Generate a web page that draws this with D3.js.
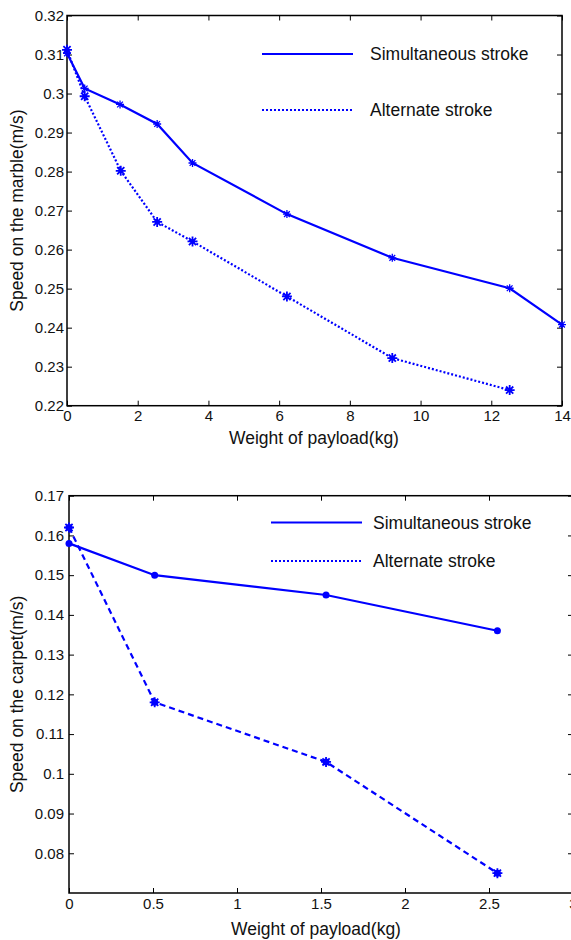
<!DOCTYPE html>
<html><head><meta charset="utf-8">
<script src="https://cdn.jsdelivr.net/npm/d3@7"></script>
<style>body{margin:0;background:#fff}svg{display:block}text{font-family:"Liberation Sans",Arial,sans-serif;fill:#111}</style>
</head><body>
<svg id="c" width="571" height="940"></svg>
<script>
// ---- Data: marble (top) ----
const marbleSimX = [0, 0.5, 1.5, 2.55, 3.55, 6.22, 9.2, 12.52, 14];
const marbleSimY = [0.3103, 0.3013, 0.2972, 0.2922, 0.2822, 0.2691, 0.2579, 0.2501, 0.2408];
const marbleAltX = [0, 0.5, 1.52, 2.55, 3.55, 6.22, 9.2, 12.52];
const marbleAltY = [0.3112, 0.2993, 0.2802, 0.2671, 0.2621, 0.2480, 0.2322, 0.2240];
const marbleXTicks = [0, 2, 4, 6, 8, 10, 12, 14];
const marbleYTicks = [0.22, 0.23, 0.24, 0.25, 0.26, 0.27, 0.28, 0.29, 0.30, 0.31, 0.32];
// ---- Data: carpet (bottom) ----
const carpetSimX = [0, 0.51, 1.53, 2.55];
const carpetSimY = [0.158, 0.150, 0.145, 0.136];
const carpetAltX = [0, 0.51, 1.53, 2.55];
const carpetAltY = [0.162, 0.118, 0.103, 0.075];
const carpetXTicks = [0, 0.5, 1, 1.5, 2, 2.5, 3];
const carpetYTicks = [0.08, 0.09, 0.10, 0.11, 0.12, 0.13, 0.14, 0.15, 0.16, 0.17];
const seriesNames = ["Simultaneous stroke", "Alternate stroke"];
const xLabel = "Weight of payload(kg)";
const yLabels = ["Speed on the marble(m/s)", "Speed on the carpet(m/s)"];

const BLUE = "#0000ff";
const svg = d3.select("#c");

function asterisk(g, x, y, r, w) {
  const p = d3.path();
  p.moveTo(x - r, y); p.lineTo(x + r, y);
  p.moveTo(x, y - r); p.lineTo(x, y + r);
  const d = r * 0.72;
  p.moveTo(x - d, y - d); p.lineTo(x + d, y + d);
  p.moveTo(x - d, y + d); p.lineTo(x + d, y - d);
  g.append("path").attr("d", p.toString()).attr("stroke", BLUE).attr("stroke-width", w).attr("fill", "none");
}

function panel(cfg) {
  const x = d3.scaleLinear().domain(cfg.xDomain).range([cfg.left, cfg.right]);
  const y = d3.scaleLinear().domain(cfg.yDomain).range([cfg.bottom, cfg.top]);
  const g = svg.append("g");
  const tl = 5;
  const ax = (axis, tr) => {
    const a = g.append("g").attr("transform", tr).call(axis);
    a.select(".domain").remove();
    a.selectAll("line").attr("stroke", "#000").attr("stroke-width", 1);
    a.selectAll("text").style("font-size", cfg.tickFs + "px").attr("fill", "#111");
    return a;
  };
  const fmt = d => String(+d.toFixed(2));
  ax(d3.axisBottom(x).tickValues(cfg.xTicks).tickSize(-tl).tickPadding(cfg.xPad).tickFormat(fmt), `translate(0,${cfg.bottom})`);
  ax(d3.axisTop(x).tickValues(cfg.xTicks).tickSize(-tl).tickFormat(""), `translate(0,${cfg.top})`);
  ax(d3.axisLeft(y).tickValues(cfg.yTicks).tickSize(-tl).tickPadding(cfg.yPad).tickFormat(fmt), `translate(${cfg.left},0)`);
  ax(d3.axisRight(y).tickValues(cfg.yTicks).tickSize(-tl).tickFormat(""), `translate(${cfg.right},0)`);
  g.append("rect").attr("x", cfg.left).attr("y", cfg.top).attr("width", cfg.right - cfg.left)
    .attr("height", cfg.bottom - cfg.top).attr("fill", "none").attr("stroke", "#000").attr("stroke-width", 1.5);
  const line = d3.line().x(d => x(d[0])).y(d => y(d[1]));
  const sim = cfg.simX.map((v, i) => [v, cfg.simY[i]]);
  const alt = cfg.altX.map((v, i) => [v, cfg.altY[i]]);
  g.append("path").attr("d", line(sim)).attr("fill", "none").attr("stroke", BLUE).attr("stroke-width", 2.2);
  g.append("path").attr("d", line(alt)).attr("fill", "none").attr("stroke", BLUE).attr("stroke-width", 2.2)
    .attr("stroke-dasharray", cfg.altDash);
  sim.forEach(d => {
    if (cfg.simMarker === "dot") g.append("circle").attr("cx", x(d[0])).attr("cy", y(d[1])).attr("r", 3.5).attr("fill", BLUE);
    else asterisk(g, x(d[0]), y(d[1]), 4, 1.3);
  });
  alt.forEach(d => {
    if (cfg.altMarker === "blob") { g.append("circle").attr("cx", x(d[0])).attr("cy", y(d[1])).attr("r", 3.5).attr("fill", BLUE); asterisk(g, x(d[0]), y(d[1]), 5, 1.8); }
    else asterisk(g, x(d[0]), y(d[1]), 5, 1.8);
  });
  const L = cfg.legend;
  g.append("line").attr("x1", L.x1).attr("x2", L.x2).attr("y1", L.y1).attr("y2", L.y1).attr("stroke", BLUE).attr("stroke-width", 2.2);
  g.append("line").attr("x1", L.x1).attr("x2", L.x2).attr("y1", L.y2).attr("y2", L.y2).attr("stroke", BLUE).attr("stroke-width", 2.2).attr("stroke-dasharray", "2,2");
  g.append("text").attr("x", L.tx).attr("y", L.y1).attr("dy", "0.35em").style("font-size", cfg.labFs + "px").text(seriesNames[0]);
  g.append("text").attr("x", L.tx).attr("y", L.y2).attr("dy", "0.35em").style("font-size", cfg.labFs + "px").text(seriesNames[1]);
  g.append("text").attr("x", cfg.xLabelCx).attr("y", cfg.xLabelY).attr("dy", "0.35em")
    .attr("text-anchor", "middle").style("font-size", cfg.labFs + "px").text(xLabel);
  g.append("text").attr("transform", `translate(${cfg.yLabelX},${(cfg.top + cfg.bottom) / 2}) rotate(-90)`)
    .attr("dy", "0.35em").attr("text-anchor", "middle").style("font-size", cfg.labFs + "px").text(cfg.yLabel);
}

panel({
  left: 67, right: 562, top: 15.5, bottom: 405.7,
  xDomain: [0, 14], yDomain: [0.22, 0.32], xTicks: marbleXTicks, yTicks: marbleYTicks,
  simX: marbleSimX, simY: marbleSimY, altX: marbleAltX, altY: marbleAltY,
  altDash: "2,2", simMarker: "ast", altMarker: "ast",
  tickFs: 15, labFs: 17.5, xPad: 5, yPad: 3,
  legend: { x1: 262, x2: 353, y1: 54, y2: 110, tx: 370 },
  xLabelCx: 314, xLabelY: 438, yLabelX: 17, yLabel: yLabels[0]
});
panel({
  left: 69, right: 573, top: 495.7, bottom: 893,
  xDomain: [0, 3], yDomain: [0.07, 0.17], xTicks: carpetXTicks, yTicks: carpetYTicks,
  simX: carpetSimX, simY: carpetSimY, altX: carpetAltX, altY: carpetAltY,
  altDash: "6,4", simMarker: "dot", altMarker: "blob",
  tickFs: 15, labFs: 17.5, xPad: 5, yPad: 5,
  legend: { x1: 271, x2: 362, y1: 522.5, y2: 561, tx: 373 },
  xLabelCx: 316, xLabelY: 929, yLabelX: 17, yLabel: yLabels[1]
});
</script>
</body></html>
